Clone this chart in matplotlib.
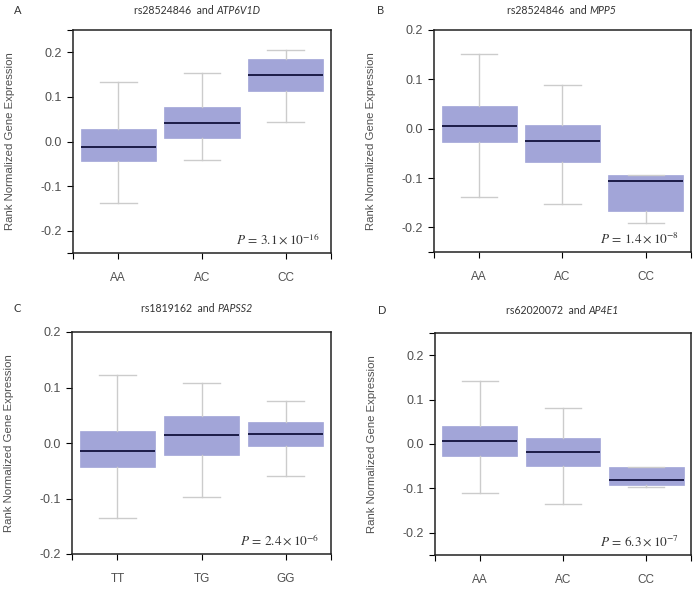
import matplotlib

matplotlib.use("Agg")
import matplotlib.pyplot as plt

plt.rcParams["font.family"] = ["Liberation Sans", "DejaVu Sans"]
plt.rcParams["mathtext.fontset"] = "stix"

# panel data: whisker low, Q1, median, Q3, whisker high per genotype
A_GENOTYPES = ["AA", "AC", "CC"]
A_WHISLO = [-0.138, -0.041, 0.044]
A_Q1 = [-0.044, 0.007, 0.114]
A_MED = [-0.012, 0.042, 0.149]
A_Q3 = [0.028, 0.077, 0.184]
A_WHISHI = [0.134, 0.153, 0.206]

B_GENOTYPES = ["AA", "AC", "CC"]
B_WHISLO = [-0.138, -0.152, -0.191]
B_Q1 = [-0.028, -0.068, -0.166]
B_MED = [0.005, -0.026, -0.106]
B_Q3 = [0.046, 0.008, -0.093]
B_WHISHI = [0.151, 0.089, -0.093]

C_GENOTYPES = ["TT", "TG", "GG"]
C_WHISLO = [-0.136, -0.097, -0.059]
C_Q1 = [-0.044, -0.022, -0.006]
C_MED = [-0.014, 0.014, 0.017]
C_Q3 = [0.022, 0.049, 0.037]
C_WHISHI = [0.123, 0.109, 0.076]

D_GENOTYPES = ["AA", "AC", "CC"]
D_WHISLO = [-0.111, -0.135, -0.097]
D_Q1 = [-0.027, -0.049, -0.093]
D_MED = [0.0075, -0.017, -0.080]
D_Q3 = [0.040, 0.0136, -0.051]
D_WHISHI = [0.142, 0.082, -0.051]

PANELS = [
    ("A", "rs28524846", "ATP6V1D", r"$P\,=\,3.1\times10^{-16}$", (-0.25, 0.25),
     A_GENOTYPES, A_WHISLO, A_Q1, A_MED, A_Q3, A_WHISHI),
    ("B", "rs28524846", "MPP5", r"$P\,=\,1.4\times10^{-8}$", (-0.25, 0.2),
     B_GENOTYPES, B_WHISLO, B_Q1, B_MED, B_Q3, B_WHISHI),
    ("C", "rs1819162", "PAPSS2", r"$P\,=\,2.4\times10^{-6}$", (-0.2, 0.2),
     C_GENOTYPES, C_WHISLO, C_Q1, C_MED, C_Q3, C_WHISHI),
    ("D", "rs62020072", "AP4E1", r"$P\,=\,6.3\times10^{-7}$", (-0.25, 0.25),
     D_GENOTYPES, D_WHISLO, D_Q1, D_MED, D_Q3, D_WHISHI),
]

W, H = 698, 595
# axes rectangles in pixels: left, top, right, bottom
RECTS = [(73, 30, 331, 253), (434, 30, 691, 252), (72, 332, 331, 554), (435, 333, 691, 555)]
LETTER_POS = [(18, 11), (381, 11), (17, 308), (382, 310)]
TITLE_X = [197, 562, 197, 562]

BOX_COLOR = "#a2a5d8"
MEDIAN_COLOR = "#1c1c48"
WHISKER_COLOR = "#cccccc"
TEXT_GRAY = "#505050"

fig = plt.figure(figsize=(W / 100, H / 100), dpi=100)

for i, (letter, snp, gene, ptxt, ylim, cats, wlo, q1, med, q3, whi) in enumerate(PANELS):
    l, t, r, b = RECTS[i]
    ax = fig.add_axes([l / W, 1 - b / H, (r - l) / W, (b - t) / H])
    stats = [
        {"whislo": wlo[k], "q1": q1[k], "med": med[k], "q3": q3[k], "whishi": whi[k], "label": cats[k]}
        for k in range(len(cats))
    ]
    ax.bxp(
        stats,
        positions=range(len(cats)),
        widths=0.9,
        capwidths=0.44,
        patch_artist=True,
        showfliers=False,
        boxprops=dict(facecolor=BOX_COLOR, edgecolor=BOX_COLOR, linewidth=0.5),
        medianprops=dict(color=MEDIAN_COLOR, linewidth=1.4),
        whiskerprops=dict(color=WHISKER_COLOR, linewidth=1.0),
        capprops=dict(color=WHISKER_COLOR, linewidth=1.0),
        zorder=2,
    )
    ax.set_xlim(-0.54, 2.54)
    ax.set_ylim(*ylim)
    ax.set_yticks([-0.2, -0.1, 0.0, 0.1, 0.2])
    ax.set_yticklabels(["-0.2", "-0.1", "0.0", "0.1", "0.2"])
    ax.set_yticks(list(ylim), minor=True)
    ax.set_xticks([-0.54, 2.54], minor=True)
    ax.tick_params(axis="y", which="both", length=4, width=0.8, pad=4, labelsize=9, labelcolor=TEXT_GRAY)
    ax.tick_params(axis="x", which="both", length=4, width=0.8, pad=10, labelsize=8.5, labelcolor=TEXT_GRAY)
    for sp in ax.spines.values():
        sp.set_linewidth(1.1)
        sp.set_color("#222222")
    ax.set_ylabel("Rank Normalized Gene Expression", fontsize=8.2, color=TEXT_GRAY)
    ax.yaxis.set_label_coords(-0.225, 0.5)
    ax.text(0.955, 0.06, ptxt, transform=ax.transAxes, ha="right", va="center", fontsize=9.5, color="#333333")

    lx, ly = LETTER_POS[i]
    fig.text(lx / W, 1 - ly / H, letter, ha="center", va="center", fontsize=8, color="#333333", family="Lato")
    tx = TITLE_X[i] / W
    ty = 1 - ly / H
    fig.text(tx, ty, snp + "  and ", ha="right", va="center", fontsize=7.6, color="#333333", family="Lato")
    fig.text(tx, ty, gene, ha="left", va="center", fontsize=7.6, color="#333333", family="Lato", style="italic")

# center each title pair on TITLE_X
fig.canvas.draw()
renderer = fig.canvas.get_renderer()
texts = fig.texts
for j in range(4):
    t1 = texts[3 * j + 1]
    t2 = texts[3 * j + 2]
    w1 = t1.get_window_extent(renderer).width
    w2 = t2.get_window_extent(renderer).width
    shift = (w1 - w2) / 2 / W
    x0, y0 = t1.get_position()
    t1.set_position((x0 + shift, y0))
    t2.set_position((x0 + shift, y0))

fig.savefig("out.png", dpi=100)
plt.close(fig)
